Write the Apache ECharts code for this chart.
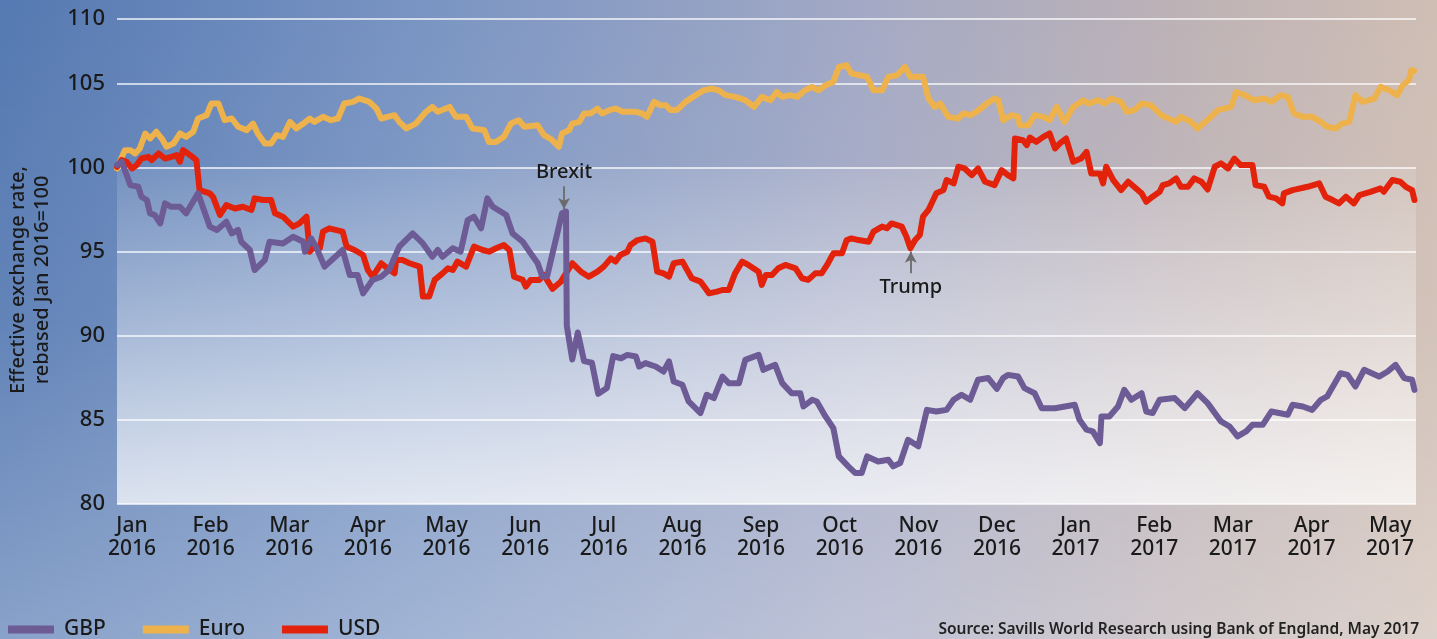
<!DOCTYPE html>
<html>
<head>
<meta charset="utf-8">
<script src="https://cdn.jsdelivr.net/npm/echarts@6/dist/echarts.min.js"></script>
<style>
  html, body { margin: 0; padding: 0; }
  #chart {
    width: 1437px; height: 639px;
    background:
      linear-gradient(to bottom, rgba(255,255,255,0) 0%, rgba(255,255,255,0.08) 50%, rgba(255,255,255,0.3) 100%),
      linear-gradient(to right, #5579b2 0%, #7a95c3 30%, #a3a9c5 60%, #bdb2b6 82%, #cfbeb4 100%);
  }
</style>
</head>
<body>
<div id="chart"></div>
<script>
// x = months since start of Jan 2016, y = index (Jan 2016 = 100)
var monthNames = ['Jan', 'Feb', 'Mar', 'Apr', 'May', 'Jun', 'Jul', 'Aug', 'Sep', 'Oct', 'Nov', 'Dec'];
var firstYear = 2016;

var gbp = [
  [0,100.16],[0.06,100.36],[0.17,98.97],[0.27,98.87],[0.31,98.28],[0.38,98.08],[0.42,97.29],[0.48,97.19],
  [0.55,96.69],[0.61,97.88],[0.69,97.68],[0.8,97.68],[0.88,97.29],[1.03,98.48],[1.12,97.29],[1.18,96.5],
  [1.27,96.3],[1.39,96.79],[1.46,96.1],[1.54,96.3],[1.58,95.6],[1.69,95.11],[1.75,93.92],[1.88,94.51],
  [1.94,95.6],[2.11,95.5],[2.24,95.9],[2.37,95.6],[2.39,95.01],[2.47,95.8],[2.53,95.31],[2.64,94.12],
  [2.87,95.11],[2.96,93.62],[3.06,93.62],[3.13,92.53],[3.25,93.33],[3.36,93.52],[3.46,93.92],[3.59,95.31],
  [3.76,96.1],[3.89,95.5],[4.01,94.71],[4.08,95.11],[4.14,94.71],[4.27,95.21],[4.37,95.01],[4.46,96.89],
  [4.54,97.09],[4.63,96.4],[4.71,98.18],[4.78,97.68],[4.95,97.19],[5.03,96.1],[5.16,95.6],[5.26,94.91],
  [5.35,94.32],[5.41,93.52],[5.47,93.55],[5.66,97.3],[5.71,97.4],[5.72,90.6],[5.79,88.6],[5.86,90.2],
  [5.94,88.5],[6.04,88.4],[6.12,86.55],[6.23,86.9],[6.31,88.8],[6.41,88.67],[6.49,88.87],[6.6,88.77],
  [6.64,88.18],[6.72,88.38],[6.85,88.18],[6.95,87.88],[7.02,88.48],[7.08,87.29],[7.19,87.09],[7.27,86.1],
  [7.42,85.41],[7.5,86.5],[7.59,86.3],[7.7,87.58],[7.78,87.19],[7.91,87.19],[7.99,88.57],[8.16,88.87],
  [8.22,87.98],[8.37,88.28],[8.46,87.19],[8.58,86.59],[8.69,86.59],[8.73,85.8],[8.84,86.2],[8.9,86.1],
  [9.01,85.21],[9.11,84.51],[9.18,82.83],[9.3,82.24],[9.39,81.84],[9.47,81.84],[9.54,82.83],[9.68,82.53],
  [9.81,82.63],[9.87,82.24],[9.96,82.44],[10.06,83.82],[10.19,83.43],[10.3,85.6],[10.42,85.5],[10.55,85.6],
  [10.64,86.2],[10.74,86.5],[10.85,86.2],[10.95,87.39],[11.08,87.49],[11.19,86.85],[11.27,87.49],[11.33,87.68],
  [11.46,87.58],[11.54,86.89],[11.67,86.59],[11.76,85.7],[11.93,85.7],[12.18,85.9],[12.24,85.01],[12.33,84.42],
  [12.41,84.32],[12.5,83.62],[12.52,85.21],[12.62,85.21],[12.73,85.8],[12.81,86.79],[12.9,86.2],[13.03,86.59],
  [13.09,85.5],[13.17,85.41],[13.26,86.2],[13.45,86.3],[13.58,85.7],[13.74,86.59],[13.87,86.0],[14.04,84.91],
  [14.15,84.61],[14.25,84.02],[14.36,84.32],[14.44,84.71],[14.57,84.71],[14.68,85.5],[14.89,85.31],[14.95,85.9],
  [15.08,85.8],[15.2,85.6],[15.31,86.2],[15.39,86.4],[15.56,87.78],[15.65,87.68],[15.75,86.99],[15.86,87.98],
  [16.05,87.58],[16.16,87.88],[16.26,88.28],[16.37,87.49],[16.47,87.39],[16.5,86.79]
];

var euro = [
  [0,99.96],[0.1,101.05],[0.17,101.05],[0.23,100.85],[0.29,101.15],[0.36,102.04],[0.42,101.74],[0.5,102.14],
  [0.57,101.74],[0.63,101.25],[0.72,101.45],[0.8,102.04],[0.88,101.84],[0.97,102.14],[1.03,102.93],[1.14,103.13],
  [1.2,103.82],[1.29,103.82],[1.37,102.83],[1.46,102.93],[1.54,102.44],[1.65,102.24],[1.73,102.63],[1.79,102.04],
  [1.88,101.45],[1.96,101.45],[2.03,101.94],[2.11,101.84],[2.2,102.73],[2.28,102.34],[2.37,102.63],[2.45,102.93],
  [2.51,102.73],[2.62,103.03],[2.72,102.83],[2.81,102.93],[2.89,103.82],[3.0,103.92],[3.08,104.12],[3.21,103.92],
  [3.3,103.52],[3.36,102.93],[3.44,103.03],[3.53,103.13],[3.59,102.73],[3.68,102.34],[3.8,102.63],[3.93,103.33],
  [4.01,103.62],[4.08,103.33],[4.23,103.62],[4.31,103.03],[4.44,103.03],[4.52,102.34],[4.67,102.24],[4.73,101.54],
  [4.82,101.54],[4.92,101.84],[5.01,102.63],[5.11,102.83],[5.18,102.44],[5.35,102.53],[5.43,101.94],[5.52,101.7],
  [5.62,101.25],[5.66,102.04],[5.75,102.24],[5.79,102.63],[5.88,102.73],[5.94,103.23],[6.02,103.23],[6.11,103.52],
  [6.17,103.23],[6.26,103.43],[6.34,103.52],[6.43,103.33],[6.6,103.33],[6.68,103.23],[6.74,103.03],[6.83,103.92],
  [6.91,103.72],[6.98,103.72],[7.04,103.43],[7.12,103.43],[7.23,103.92],[7.36,104.32],[7.46,104.61],[7.57,104.71],
  [7.65,104.61],[7.74,104.32],[7.86,104.22],[7.99,104.02],[8.1,103.62],[8.2,104.22],[8.31,104.02],[8.39,104.51],
  [8.46,104.22],[8.56,104.32],[8.65,104.22],[8.75,104.61],[8.84,104.81],[8.92,104.61],[9.01,104.91],[9.11,105.11],
  [9.18,106.0],[9.28,106.1],[9.34,105.6],[9.45,105.5],[9.54,105.41],[9.62,104.61],[9.73,104.61],[9.81,105.41],
  [9.92,105.5],[10.02,106.0],[10.09,105.41],[10.25,105.41],[10.32,104.12],[10.4,103.62],[10.47,103.82],[10.57,103.03],
  [10.7,102.93],[10.76,103.23],[10.85,103.13],[10.93,103.33],[11.06,103.82],[11.16,104.12],[11.21,104.0],[11.27,102.83],
  [11.38,103.13],[11.46,103.03],[11.48,102.53],[11.59,102.53],[11.67,103.13],[11.78,103.03],[11.86,102.83],[11.95,103.62],
  [12.05,102.73],[12.16,103.62],[12.29,104.02],[12.35,103.82],[12.48,104.02],[12.56,103.82],[12.64,104.12],[12.77,103.92],
  [12.84,103.33],[12.94,103.43],[13.03,103.82],[13.15,103.72],[13.28,103.13],[13.47,102.73],[13.53,103.03],[13.66,102.73],
  [13.74,102.34],[13.89,102.93],[14.0,103.43],[14.17,103.62],[14.23,104.51],[14.34,104.32],[14.46,104.02],[14.59,104.12],
  [14.68,103.92],[14.8,104.32],[14.89,104.22],[14.97,103.23],[15.08,103.03],[15.2,103.03],[15.31,102.73],[15.39,102.44],
  [15.5,102.34],[15.58,102.63],[15.67,102.73],[15.75,104.32],[15.84,103.92],[15.99,104.12],[16.07,104.81],[16.18,104.61],
  [16.28,104.32],[16.35,104.91],[16.43,105.21],[16.46,105.8],[16.5,105.76]
];

var usd = [
  [0,100.06],[0.06,100.46],[0.12,100.36],[0.19,99.96],[0.25,100.16],[0.31,100.55],[0.4,100.65],[0.44,100.46],
  [0.53,100.85],[0.61,100.55],[0.69,100.65],[0.76,100.75],[0.8,100.36],[0.84,101.05],[0.93,100.75],[1.01,100.46],
  [1.05,98.67],[1.18,98.48],[1.22,98.28],[1.31,97.19],[1.39,97.78],[1.5,97.58],[1.6,97.68],[1.71,97.49],
  [1.75,98.18],[1.86,98.08],[1.96,98.08],[2.01,97.29],[2.11,97.09],[2.24,96.5],[2.32,96.69],[2.41,97.09],
  [2.45,95.01],[2.49,95.21],[2.58,95.21],[2.62,96.2],[2.7,96.4],[2.87,96.2],[2.92,95.31],[3.02,95.11],
  [3.13,94.81],[3.19,93.92],[3.25,93.52],[3.36,94.32],[3.44,94.02],[3.53,93.72],[3.55,94.51],[3.63,94.51],
  [3.72,94.32],[3.85,94.12],[3.89,92.34],[3.97,92.34],[4.04,93.33],[4.14,93.72],[4.21,94.02],[4.27,93.92],
  [4.33,94.42],[4.44,94.12],[4.54,95.31],[4.65,95.11],[4.73,95.01],[4.82,95.21],[4.92,95.41],[4.99,95.11],
  [5.05,93.52],[5.16,93.33],[5.2,92.93],[5.26,93.33],[5.37,93.33],[5.43,93.62],[5.54,92.8],[5.64,93.2],
  [5.71,93.72],[5.79,94.32],[5.9,93.82],[6.0,93.52],[6.11,93.82],[6.19,94.12],[6.28,94.61],[6.34,94.42],
  [6.4,94.81],[6.49,95.01],[6.53,95.41],[6.62,95.7],[6.72,95.8],[6.81,95.6],[6.87,93.82],[6.95,93.72],
  [7.02,93.52],[7.08,94.32],[7.19,94.42],[7.31,93.43],[7.42,93.23],[7.53,92.53],[7.63,92.63],[7.7,92.73],
  [7.78,92.73],[7.86,93.72],[7.95,94.42],[8.03,94.22],[8.16,93.82],[8.2,93.03],[8.25,93.62],[8.33,93.62],
  [8.41,94.02],[8.5,94.22],[8.63,94.02],[8.71,93.43],[8.79,93.33],[8.88,93.72],[8.96,93.72],[9.03,94.22],
  [9.11,94.91],[9.22,94.91],[9.28,95.7],[9.34,95.8],[9.43,95.7],[9.56,95.6],[9.62,96.2],[9.73,96.5],
  [9.79,96.4],[9.85,96.69],[9.98,96.5],[10.04,95.9],[10.09,95.21],[10.15,95.7],[10.21,96.0],[10.25,97.09],
  [10.32,97.49],[10.42,98.48],[10.51,98.67],[10.55,99.27],[10.64,99.07],[10.7,100.06],[10.78,99.96],[10.87,99.56],
  [10.95,99.96],[11.04,99.17],[11.16,98.97],[11.25,99.86],[11.33,99.56],[11.4,99.37],[11.42,101.74],[11.52,101.64],
  [11.57,101.35],[11.61,101.8],[11.69,101.54],[11.78,101.84],[11.86,102.04],[11.93,101.15],[11.99,101.45],[12.07,101.74],
  [12.16,100.36],[12.26,100.55],[12.33,100.95],[12.39,99.66],[12.5,99.66],[12.54,99.07],[12.58,100.06],[12.67,99.27],
  [12.77,98.67],[12.86,99.17],[12.96,98.77],[13.03,98.48],[13.09,97.98],[13.17,98.28],[13.26,98.57],[13.3,98.97],
  [13.38,99.07],[13.47,99.37],[13.53,98.87],[13.62,98.87],[13.7,99.37],[13.79,99.17],[13.87,98.71],[13.96,100.06],
  [14.04,100.26],[14.13,99.96],[14.21,100.55],[14.29,100.16],[14.44,100.16],[14.48,98.97],[14.59,98.87],[14.65,98.28],
  [14.74,98.18],[14.82,97.88],[14.84,98.48],[14.95,98.67],[15.14,98.87],[15.29,99.07],[15.37,98.28],[15.46,98.08],
  [15.54,97.88],[15.63,98.28],[15.73,97.88],[15.8,98.38],[15.94,98.57],[16.07,98.77],[16.11,98.57],[16.22,99.27],
  [16.32,99.17],[16.39,98.87],[16.47,98.67],[16.5,98.08]
];

// events: [month position, arrow tail, arrow tip]
var brexit = [5.685, 98.9, 97.55];
var trump = [10.095, 93.73, 95.0];

var yTicks = [80, 85, 90, 95, 100, 105, 110];

var font = "'Noto Sans', 'Liberation Sans', sans-serif";
var ink = '#1a1a1a';

var myChart = echarts.init(document.getElementById('chart'));

function arrowLine(ev, text, pos) {
  return {
    silent: true,
    symbol: ['none', 'arrow'],
    symbolSize: [9, 11],
    lineStyle: { color: '#6b6b6b', width: 1.8, type: 'solid' },
    label: {
      show: true, position: pos, formatter: text, distance: 4,
      fontFamily: font, fontSize: 20, fontWeight: 500, color: ink
    },
    data: [[{ coord: [ev[0], ev[1]] }, { coord: [ev[0], ev[2]] }]]
  };
}

var option = {
  animation: false,
  textStyle: { fontFamily: font },
  grid: { left: 117, right: 21, top: 19, bottom: 135 },
  legend: {
    left: 8, top: 619, padding: 0,
    icon: 'rect', itemWidth: 46, itemHeight: 8, itemGap: 37,
    data: ['GBP', 'Euro', 'USD'],
    textStyle: { fontSize: 21, fontWeight: 500, color: ink, fontFamily: font, padding: [0, 0, 0, 5] }
  },
  title: {
    text: 'Source: Savills World Research using Bank of England, May 2017',
    right: 18, top: 622, padding: 0,
    textStyle: { fontSize: 15.5, fontWeight: 600, color: '#222', fontFamily: font }
  },
  graphic: [{
    type: 'text', x: 30, y: 280, rotation: Math.PI / 2,
    style: {
      text: 'Effective exchange rate,\nrebased Jan 2016=100',
      align: 'center', verticalAlign: 'middle',
      fontSize: 20, fontWeight: 500, lineHeight: 24, fill: ink, fontFamily: font
    }
  }],
  xAxis: {
    type: 'value', min: 0, max: 16.52, interval: 1,
    axisLine: { show: false }, axisTick: { show: false }, splitLine: { show: false },
    axisLabel: {
      margin: 11, fontSize: 21, fontWeight: 500, lineHeight: 23, color: ink, fontFamily: font,
      padding: [0, 0, 0, 30],
      formatter: function (v) {
        if (v !== Math.round(v)) return '';
        return monthNames[v % 12] + '\n' + (firstYear + Math.floor(v / 12));
      }
    }
  },
  yAxis: {
    type: 'value', min: yTicks[0], max: 108.85, interval: 5,
    axisLine: { show: false }, axisTick: { show: false },
    splitLine: { lineStyle: { color: 'rgba(255,255,255,0.9)', width: 1.5 } },
    axisLabel: {
      margin: 12, fontSize: 22, fontWeight: 500, color: ink, fontFamily: font,
      formatter: function (v) { return v > 106 ? String(yTicks[yTicks.length - 1]) : String(v); }
    }
  },
  series: [
    {
      name: 'Euro', type: 'line', data: euro, showSymbol: false,
      itemStyle: { color: '#edb24c' },
      lineStyle: { color: '#edb24c', width: 6, cap: 'round', join: 'round' },
      markArea: {
        silent: true,
        itemStyle: {
          color: new echarts.graphic.LinearGradient(0, 0, 0, 1, [
            { offset: 0, color: 'rgba(255,255,255,0.1)' },
            { offset: 1, color: 'rgba(255,255,255,0.72)' }
          ])
        },
        data: [[{ yAxis: 100 }, { yAxis: 80 }]]
      }
    },
    {
      name: 'USD', type: 'line', data: usd, showSymbol: false,
      itemStyle: { color: '#e3220c' },
      lineStyle: { color: '#e3220c', width: 6, cap: 'round', join: 'round' },
      markLine: arrowLine(trump, 'Trump', 'start')
    },
    {
      name: 'GBP', type: 'line', data: gbp, showSymbol: false,
      itemStyle: { color: '#6d5b96' },
      lineStyle: { color: '#6d5b96', width: 6, cap: 'round', join: 'round' },
      markLine: arrowLine(brexit, 'Brexit', 'start')
    }
  ]
};
myChart.setOption(option);
</script>
</body>
</html>
